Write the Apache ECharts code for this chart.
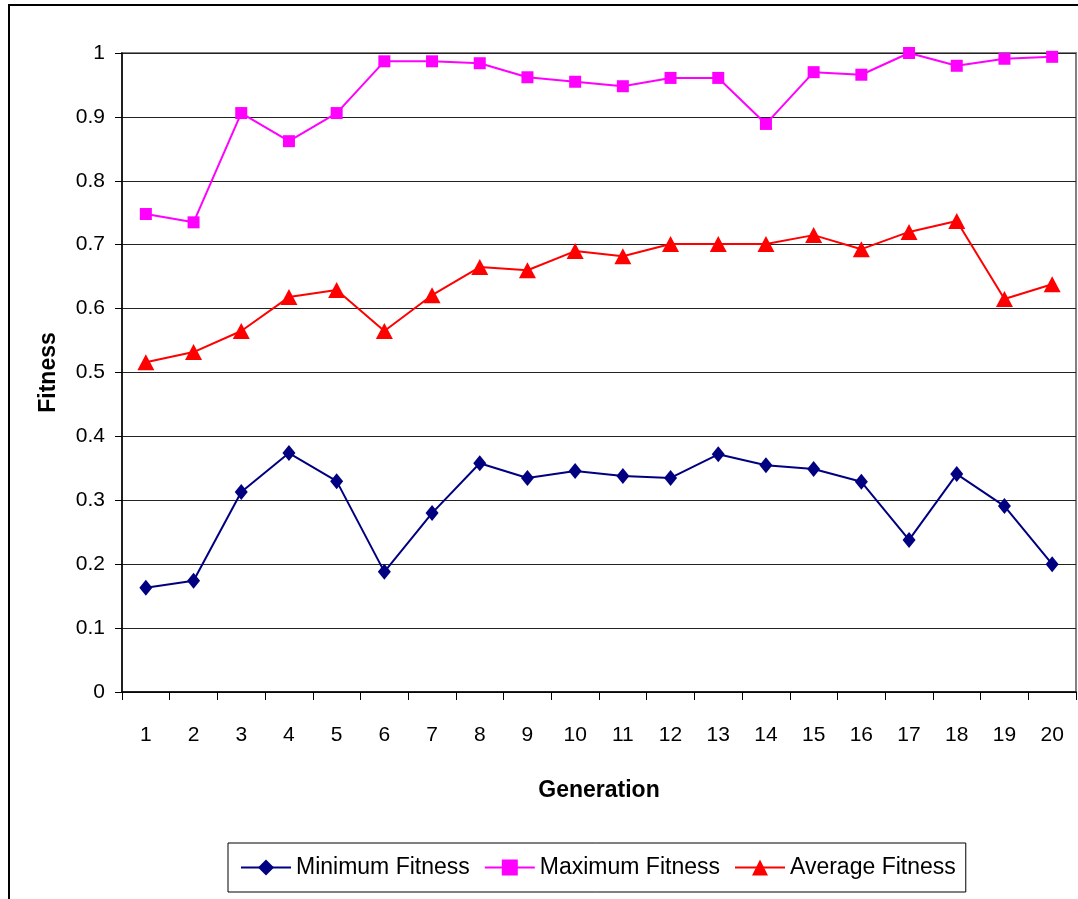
<!DOCTYPE html>
<html>
<head>
<meta charset="utf-8">
<script src="https://cdn.jsdelivr.net/npm/echarts@6/dist/echarts.min.js"></script>
<style>
  html, body { margin: 0; padding: 0; background: #fff; }
  #chart { width: 1078px; height: 899px; }
</style>
</head>
<body>
<div id="chart"></div>
<script>
// Generations 1..20
const generations = ['1','2','3','4','5','6','7','8','9','10','11','12','13','14','15','16','17','18','19','20'];

const minimumFitness = [0.163, 0.174, 0.313, 0.374, 0.330, 0.188, 0.280, 0.358, 0.335, 0.346,
                        0.338, 0.335, 0.372, 0.355, 0.349, 0.329, 0.238, 0.341, 0.291, 0.200];
const maximumFitness = [0.748, 0.735, 0.906, 0.862, 0.906, 0.987, 0.987, 0.984, 0.962, 0.955,
                        0.948, 0.961, 0.961, 0.889, 0.970, 0.966, 1.000, 0.980, 0.991, 0.994];
const averageFitness = [0.516, 0.532, 0.565, 0.618, 0.629, 0.565, 0.621, 0.665, 0.660, 0.690,
                        0.682, 0.701, 0.701, 0.701, 0.715, 0.693, 0.720, 0.737, 0.615, 0.638];

const FONT = '"Liberation Sans", Arial, sans-serif';

const chart = echarts.init(document.getElementById('chart'), null, { renderer: 'canvas' });

chart.setOption({
  animation: false,
  backgroundColor: '#fff',
  textStyle: { fontFamily: FONT, color: '#000' },
  graphic: [{
    type: 'rect',
    shape: { x: 9, y: 5, width: 1200, height: 1000 },
    style: { fill: 'none', stroke: '#000', lineWidth: 2 },
    silent: true
  }],
  grid: {
    left: 122, right: 2, top: 53, bottom: 207,
    show: true, borderColor: '#808080', borderWidth: 2, backgroundColor: 'transparent'
  },
  legend: {
    left: 228, top: 843,
    padding: [13, 10, 13, 12],
    itemGap: 14,
    itemWidth: 50, itemHeight: 20,
    borderColor: '#000', borderWidth: 1,
    textStyle: { fontFamily: FONT, fontSize: 23, color: '#000', padding: [0, 0, 0, 0] },
    data: ['Minimum Fitness', 'Maximum Fitness', 'Average Fitness']
  },
  xAxis: {
    type: 'category',
    data: generations,
    boundaryGap: true,
    name: 'Generation',
    nameLocation: 'middle',
    nameGap: 87,
    nameTextStyle: { fontFamily: FONT, fontSize: 23, fontWeight: 'bold', color: '#000' },
    axisLine: { lineStyle: { color: '#000', width: 1.5 } },
    axisTick: { show: true, length: 8, lineStyle: { color: '#000' } },
    axisLabel: { fontFamily: FONT, fontSize: 21, color: '#000', margin: 33 },
    splitLine: { show: false }
  },
  yAxis: {
    type: 'value',
    min: 0, max: 1, interval: 0.1,
    name: 'Fitness',
    nameLocation: 'middle',
    nameGap: 62,
    nameRotate: 90,
    nameTextStyle: { fontFamily: FONT, fontSize: 23, fontWeight: 'bold', color: '#000' },
    axisLine: { show: true, lineStyle: { color: '#000', width: 1.5 } },
    axisTick: { show: true, length: 7, lineStyle: { color: '#000' } },
    axisLabel: { fontFamily: FONT, fontSize: 21, color: '#000', margin: 17 },
    splitLine: { show: true, lineStyle: { color: '#222', width: 1 } }
  },
  series: [
    {
      name: 'Minimum Fitness',
      type: 'line',
      data: minimumFitness,
      symbol: 'diamond',
      symbolSize: [13, 16],
      itemStyle: { color: '#000080' },
      lineStyle: { color: '#000080', width: 2 }
    },
    {
      name: 'Maximum Fitness',
      type: 'line',
      data: maximumFitness,
      symbol: 'rect',
      symbolSize: 12,
      itemStyle: { color: '#FF00FF' },
      lineStyle: { color: '#FF00FF', width: 2 }
    },
    {
      name: 'Average Fitness',
      type: 'line',
      data: averageFitness,
      symbol: 'triangle',
      symbolSize: [17, 16],
      itemStyle: { color: '#FF0000' },
      lineStyle: { color: '#FF0000', width: 2 }
    }
  ]
});
</script>
</body>
</html>
